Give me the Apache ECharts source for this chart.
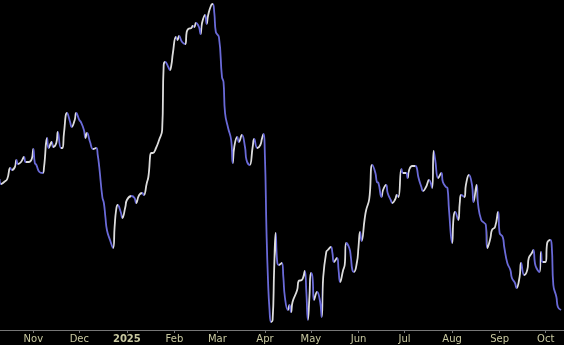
<!DOCTYPE html>
<html>
<head>
<meta charset="utf-8">
<script src="https://cdn.jsdelivr.net/npm/echarts@6/dist/echarts.min.js"></script>
<style>
html,body{margin:0;padding:0;background:#000;}
#chart{width:564px;height:345px;}
</style>
</head>
<body>
<div id="chart"></div>
<script>
// Day offsets from 2024-10-10 and closing values
const dayOffsets = [
  0,1,3,5,7,8,10,11,12,14,16,17,19,21,22,23,24,26,28,29,
  31,32,34,35,37,38,40,41,42,44,46,47,49,50,52,53,55,56,57,59,
  61,63,64,65,67,68,69,70,72,74,75,76,77,79,80,82,83,86,88,89,
  91,93,94,96,97,99,100,102,104,106,107,108,110,111,112,113,115,116,117,119,
  121,122,123,125,126,127,128,130,131,132,134,135,136,138,139,140,141,143,145,146,
  147,149,151,152,153,155,156,158,160,161,163,165,166,168,170,171,172,173,174,175,
  176,177,178,179,180,181,182,184,185,186,188,189,190,191,194,195,197,198,199,200,
  201,202,203,204,205,207,209,210,211,213,214,216,217,218,220,221,222,224,225,226,
  228,229,230,231,233,234,235,236,238,239,241,243,245,246,247,249,250,252,253,255,
  256,258,259,260,262,263,265,266,267,269,271,272,273,275,276,278,280,282,283,284,
  286,288,289,291,292,293,295,296,297,299,300,301,303,304,306,308,309,311,312,314,
  316,317,318,320,321,323,325,326,328,329,331,333,334,336,337,339,340,342,344,345,
  347,348,349,350,352,353,354,356,357,359,360,361,363,364,366
];
const closes = [
  35.1,34.6,34.8,35.1,36.2,36.0,36.3,37.0,36.6,36.8,37.3,36.8,36.8,37.1,38.1,36.7,36.5,35.8,35.7,36.3,
  39.2,38.2,38.8,38.3,38.7,39.8,38.2,38.2,39.7,41.7,40.8,40.3,41.0,41.7,41.0,40.8,40.0,39.2,39.7,38.8,
  38.1,38.2,37.5,36.3,33.3,32.7,31.3,30.0,29.0,28.2,30.3,32.0,32.5,31.8,31.2,32.3,33.0,33.4,33.2,32.7,
  33.5,33.7,33.5,34.7,35.3,37.7,37.7,38.2,39.0,40.0,46.5,46.8,46.3,46.0,46.5,47.7,49.3,49.0,49.4,48.8,
  48.6,49.8,50.1,50.2,50.4,50.3,50.7,50.3,49.6,50.7,51.5,50.6,51.5,52.5,52.6,51.7,49.8,49.3,45.3,44.8,
  41.7,40.2,39.0,36.7,38.3,39.3,38.8,39.5,38.3,37.0,36.5,38.3,39.1,38.2,38.5,39.1,39.6,37.3,30.0,25.0,
  22.0,20.8,21.0,26.0,29.7,26.8,26.5,26.7,25.3,23.3,22.0,22.5,21.8,22.8,24.0,24.9,25.0,25.3,25.9,23.8,
  21.0,23.3,25.7,25.3,23.0,23.8,22.8,21.3,25.3,27.8,28.0,28.3,27.7,26.8,27.2,26.0,24.8,26.0,26.5,28.7,
  28.2,27.3,26.0,25.8,26.8,28.3,29.8,28.9,31.1,32.0,33.1,36.5,35.7,34.8,34.7,33.3,34.0,34.5,33.7,33.0,
  32.7,33.1,33.5,33.3,36.1,35.7,35.7,35.2,36.0,36.4,36.4,36.2,35.3,34.3,33.9,34.3,35.0,34.2,37.9,37.0,
  35.2,35.7,34.8,34.3,34.2,32.0,28.7,31.3,31.8,31.0,32.7,33.5,33.3,34.5,35.5,34.5,32.8,34.5,32.5,31.0,
  30.7,30.5,28.2,29.2,30.0,30.3,31.8,29.7,29.3,28.3,26.7,26.0,25.2,24.7,24.2,25.3,26.7,25.5,26.0,27.2,
  27.7,28.0,26.7,26.2,25.8,27.8,26.8,26.8,28.7,29.0,28.3,24.5,23.3,22.3,22.0
];
const upColor = '#dcdcdc';
const downColor = '#6a6ad8';

const times = dayOffsets.map(d => new Date(2024, 9, 10 + d).getTime());
const seriesData = times.map((t, i) => [t, closes[i]]);

// colour pieces: rising segments light, falling segments blue
const pieces = [];
for (let i = 1; i < closes.length; i++) {
  const c = closes[i] >= closes[i - 1] ? upColor : downColor;
  const last = pieces[pieces.length - 1];
  if (last && last.color === c) { last.lte = times[i]; }
  else pieces.push({ gt: times[i - 1], lte: times[i], color: c });
}
pieces[0].gte = pieces[0].gt - 86400000 * 30; delete pieces[0].gt;

const chart = echarts.init(document.getElementById('chart'));
chart.setOption({
  backgroundColor: '#000',
  animation: false,
  grid: { left: 0, right: 0, top: 0, bottom: 15 },
  xAxis: {
    type: 'time',
    min: new Date(2024, 9, 10, 7).getTime(),
    max: new Date(2025, 9, 12, 23).getTime(),
    minInterval: 28 * 86400000,
    maxInterval: 31 * 86400000,
    axisLine: { show: true, lineStyle: { color: '#777', width: 1 } },
    axisTick: { show: true, length: 3, lineStyle: { color: '#777' } },
    axisLabel: { color: '#c8c8a0', fontSize: 10, fontFamily: 'DejaVu Sans', margin: 4 },
    splitLine: { show: false }
  },
  yAxis: { type: 'value', min: 20, max: 53, show: false, splitLine: { show: false } },
  visualMap: {
    show: false,
    type: 'piecewise',
    dimension: 0,
    seriesIndex: 0,
    pieces: pieces,
    outOfRange: { color: upColor }
  },
  series: [{
    type: 'line',
    data: seriesData,
    smooth: true,
    showSymbol: false,
    lineStyle: { width: 1.8 }
  }]
});
</script>
</body>
</html>
